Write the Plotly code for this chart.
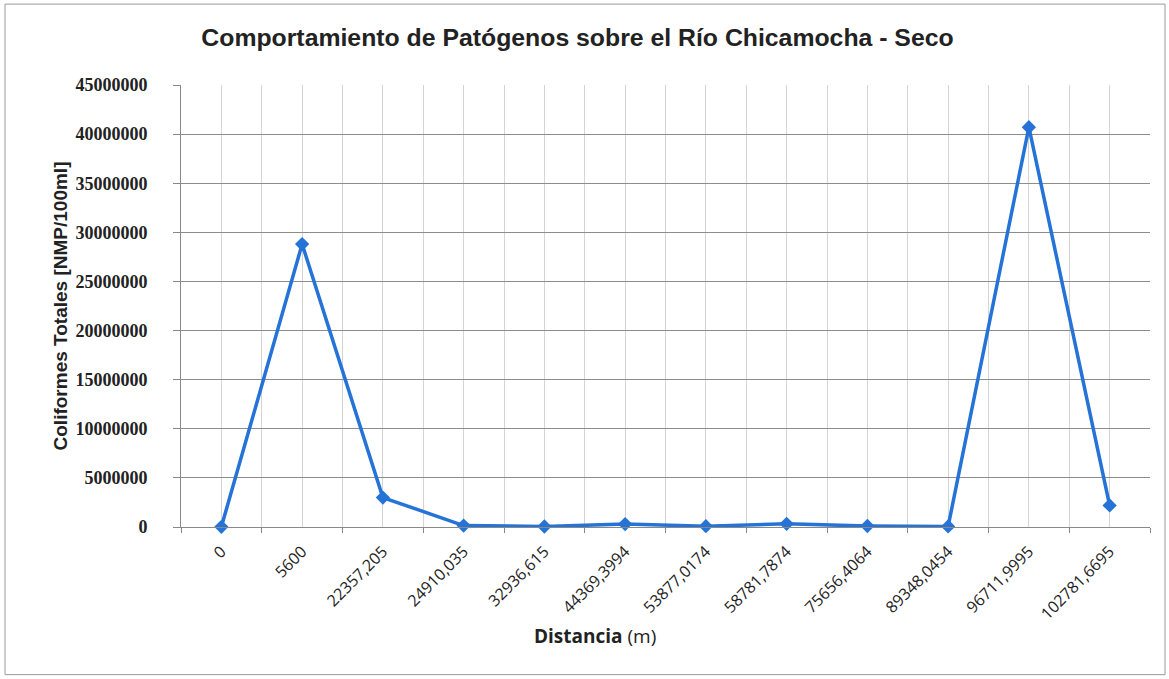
import plotly.graph_objects as go

# Sampling stations along the river (distance labels, comma decimals)
distancias = [
    "0", "5600", "22357,205", "24910,035", "32936,615", "44369,3994",
    "53877,0174", "58781,7874", "75656,4064", "89348,0454", "96711,9995",
    "102781,6695",
]

# Total coliforms [NMP/100ml], dry season
coliformes = [
    20000, 28800000, 3000000, 150000, 50000, 300000,
    80000, 320000, 100000, 60000, 40700000, 2200000,
]

y_ticks = [0, 5000000, 10000000, 15000000, 20000000, 25000000,
           30000000, 35000000, 40000000, 45000000]

n = len(distancias)
pos = list(range(n))
bordes = [i - 0.5 for i in range(n + 1)]

fig = go.Figure()
fig.add_trace(go.Scatter(
    x=pos, y=coliformes, mode="lines+markers",
    line=dict(color="#2573d6", width=3.5),
    marker=dict(symbol="diamond", size=11, color="#2573d6"),
    showlegend=False, cliponaxis=False,
))

fig.update_layout(
    width=1169, height=679,
    margin=dict(l=181, r=19, t=85, b=152),
    paper_bgcolor="white", plot_bgcolor="white",
    title=dict(
        text="<b>Comportamiento de Patógenos sobre el Río Chicamocha - Seco</b>",
        x=0.494, xanchor="center", y=0.945, yanchor="middle",
        font=dict(family="Liberation Sans, Arial", size=24.8, color="#222"),
    ),
    xaxis=dict(
        range=[-0.5, n - 0.5],
        tickmode="array", tickvals=pos, ticktext=distancias,
        tickangle=-45, ticklabelstandoff=8,
        tickfont=dict(family="Open Sans, Liberation Sans", size=16, color="#222"),
        ticks="", showgrid=True, gridcolor="#d4d4d4", gridwidth=1,
        minor=dict(tickmode="array", tickvals=bordes, ticks="outside",
                   ticklen=5, tickcolor="#888", showgrid=True,
                   gridcolor="#d4d4d4", gridwidth=1),
        showline=True, linecolor="#888", linewidth=1,
        zeroline=False,
    ),
    yaxis=dict(
        range=[0, 45000000],
        tickmode="array", tickvals=y_ticks,
        ticktext=[f"<b>{v}</b>" for v in y_ticks],
        tickfont=dict(family="Liberation Serif, Times New Roman", size=18, color="#222"),
        ticks="outside", ticklen=7, tickcolor="#888",
        ticklabelstandoff=22,
        showgrid=True, gridcolor="#8c8c8c", gridwidth=1,
        showline=True, linecolor="#888", linewidth=1,
        zeroline=False,
        title=dict(
            text="<b>Coliformes Totales [NMP/100ml]</b>",
            font=dict(family="Liberation Sans, Arial", size=19, color="#222"),
            standoff=2,
        ),
    ),
    annotations=[dict(
        text="<b>Distancia</b> (m)", xref="paper", yref="paper",
        x=0.427, y=-0.247, xanchor="center", yanchor="middle",
        showarrow=False,
        font=dict(family="Open Sans, Liberation Sans", size=19, color="#222"),
    )],
    shapes=[dict(
        type="rect", xref="paper", yref="paper",
        x0=-0.1816, x1=1.0155, y0=-0.334, y1=1.183,
        line=dict(color="#9a9a9a", width=1),
    )],
)

fig.write_html("out.html")
